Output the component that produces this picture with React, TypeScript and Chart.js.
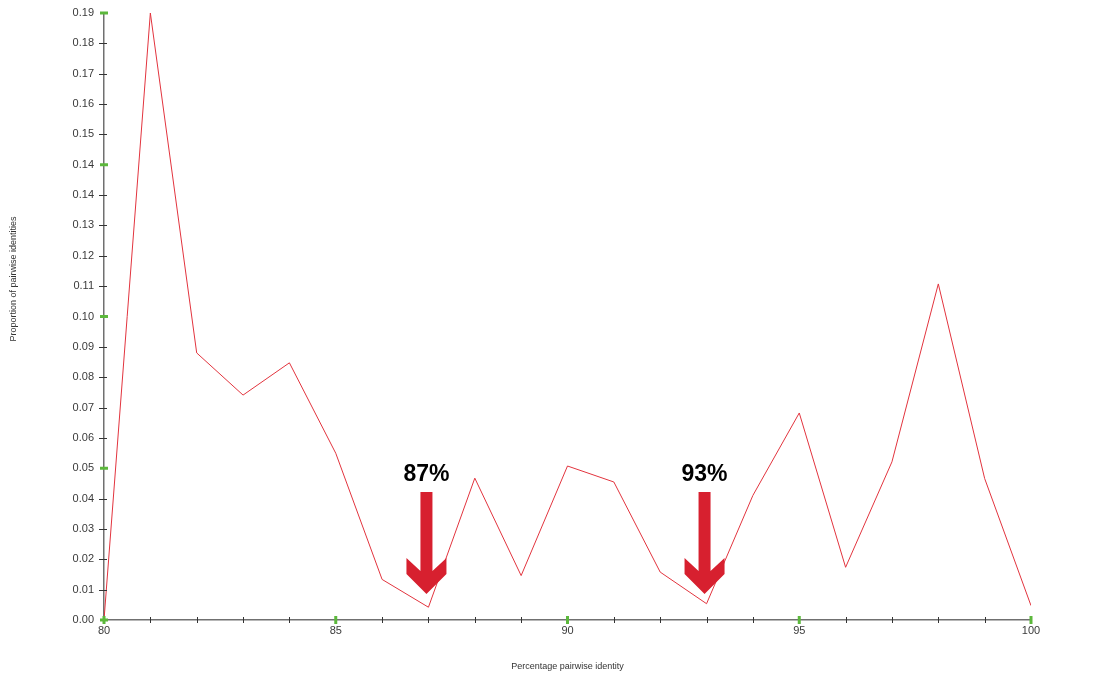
import React, { useEffect, useRef } from "react";
import { Chart, registerables } from "chart.js";

Chart.register(...registerables);

const xValues = [80, 81, 82, 83, 84, 85, 86, 87, 88, 89, 90, 91, 92, 93, 94, 95, 96, 97, 98, 99, 100];
const proportions = [
  0.0, 0.19, 0.0836, 0.0704, 0.0805, 0.0522, 0.0127, 0.004, 0.0444, 0.0139, 0.0482,
  0.0432, 0.015, 0.0051, 0.039, 0.0648, 0.0165, 0.0495, 0.1052, 0.0443, 0.0045,
];
const yTickLabels = [
  "0.00", "0.01", "0.02", "0.03", "0.04", "0.05", "0.06", "0.07", "0.08", "0.09", "0.10",
  "0.11", "0.12", "0.13", "0.14", "0.14", "0.15", "0.16", "0.17", "0.18", "0.19",
];
const xTickValues = [80, 81, 82, 83, 84, 85, 86, 87, 88, 89, 90, 91, 92, 93, 94, 95, 96, 97, 98, 99, 100];
const xLabeled = [80, 85, 90, 95, 100];
const arrowXs = [87, 93];
const arrowLabels = ["87%", "93%"];
const xTitle = "Percentage pairwise identity";
const yTitle = "Proportion of pairwise identities";

const Y_MAX = 0.19;
const FONT = "'Liberation Sans', Arial, sans-serif";

const decorPlugin = {
  id: "decor",
  afterDraw(chart: any) {
    const ctx = chart.ctx;
    const xs = chart.scales.x;
    const ys = chart.scales.y;
    const area = chart.chartArea;
    ctx.save();
    // y tick marks
    ys.ticks.forEach((t: any, i: number) => {
      const py = ys.getPixelForValue(t.value);
      if (i % 5 === 0) {
        ctx.fillStyle = "#5cb83c";
        ctx.fillRect(area.left - 4, py - 1.5, 8, 3);
      } else {
        ctx.strokeStyle = "#333";
        ctx.lineWidth = 1;
        ctx.beginPath();
        ctx.moveTo(area.left - 5, Math.round(py) + 0.5);
        ctx.lineTo(area.left + 3, Math.round(py) + 0.5);
        ctx.stroke();
      }
    });
    // x tick marks
    xs.ticks.forEach((t: any) => {
      const px = xs.getPixelForValue(t.value);
      if (xLabeled.includes(t.value)) {
        ctx.fillStyle = "#5cb83c";
        ctx.fillRect(px - 1.5, area.bottom - 4, 3, 8);
      } else {
        ctx.strokeStyle = "#333";
        ctx.lineWidth = 1;
        ctx.beginPath();
        ctx.moveTo(Math.round(px) + 0.5, area.bottom - 3);
        ctx.lineTo(Math.round(px) + 0.5, area.bottom + 3);
        ctx.stroke();
      }
    });
    // arrows + labels
    arrowXs.forEach((xv, i) => {
      const cx = xs.getPixelForValue(xv) - 2;
      const base = area.bottom;
      const tipY = base - 26;
      const topY = base - 128;
      const sh = 6; // half shaft width
      const wing = 20; // half head width
      ctx.fillStyle = "#d7202f";
      ctx.beginPath();
      ctx.moveTo(cx - sh, topY);
      ctx.lineTo(cx + sh, topY);
      ctx.lineTo(cx + sh, tipY - 23);
      ctx.lineTo(cx + wing, tipY - 36);
      ctx.lineTo(cx + wing, tipY - 20);
      ctx.lineTo(cx, tipY);
      ctx.lineTo(cx - wing, tipY - 20);
      ctx.lineTo(cx - wing, tipY - 36);
      ctx.lineTo(cx - sh, tipY - 23);
      ctx.closePath();
      ctx.fill();
      ctx.fillStyle = "#000";
      ctx.font = `bold 23px ${FONT}`;
      ctx.textAlign = "center";
      ctx.textBaseline = "alphabetic";
      ctx.fillText(arrowLabels[i], cx, topY - 11);
    });
    // axis titles
    ctx.fillStyle = "#333";
    ctx.font = `9px ${FONT}`;
    ctx.textAlign = "center";
    ctx.textBaseline = "middle";
    ctx.fillText(xTitle, (area.left + area.right) / 2, 667);
    ctx.translate(14, 279);
    ctx.rotate(-Math.PI / 2);
    ctx.fillText(yTitle, 0, 0);
    ctx.restore();
  },
};

export default function App() {
  const canvasRef = useRef<HTMLCanvasElement | null>(null);

  useEffect(() => {
    if (!canvasRef.current) return;
    const chart = new Chart(canvasRef.current, {
      type: "line",
      data: {
        datasets: [
          {
            data: xValues.map((x, i) => ({ x, y: proportions[i] })),
            borderColor: "rgb(226,52,62)",
            borderWidth: 1,
            pointRadius: 0,
            tension: 0,
            fill: false,
          },
        ],
      },
      options: {
        animation: false,
        responsive: true,
        maintainAspectRatio: false,
        devicePixelRatio: 1,
        layout: { padding: { top: 13, right: 76, left: 0, bottom: 0 } },
        plugins: {
          legend: { display: false },
          tooltip: { enabled: false },
        },
        scales: {
          x: {
            type: "linear",
            min: 80,
            max: 100,
            afterFit: (s: any) => {
              s.height = 55;
            },
            afterBuildTicks: (s: any) => {
              s.ticks = xTickValues.map((v) => ({ value: v }));
            },
            ticks: {
              autoSkip: false,
              maxRotation: 0,
              padding: 4,
              color: "#3a3a3a",
              font: { family: FONT, size: 11 },
              callback: (v: any) => (xLabeled.includes(Number(v)) ? String(v) : ""),
            },
            grid: { display: false, drawTicks: false },
            border: { display: true, color: "#707070", width: 1.5 },
          },
          y: {
            type: "linear",
            min: 0,
            max: Y_MAX,
            afterFit: (s: any) => {
              s.width = 104;
              s.paddingTop = 0;
              s.paddingBottom = 0;
            },
            afterBuildTicks: (s: any) => {
              s.ticks = yTickLabels.map((_, i) => ({ value: (i * Y_MAX) / (yTickLabels.length - 1) }));
            },
            ticks: {
              autoSkip: false,
              padding: 10,
              color: "#3a3a3a",
              font: { family: FONT, size: 11, lineHeight: 0.5 },
              callback: (_v: any, i: number) => yTickLabels[i],
            },
            grid: { display: false, drawTicks: false },
            border: { display: true, color: "#707070", width: 1.5 },
          },
        },
      },
      plugins: [decorPlugin],
    } as any);
    return () => chart.destroy();
  }, []);

  return (
    <div style={{ position: "absolute", left: 0, top: 0, width: 1107, height: 675, background: "#fff" }}>
      <canvas ref={canvasRef} />
    </div>
  );
}
